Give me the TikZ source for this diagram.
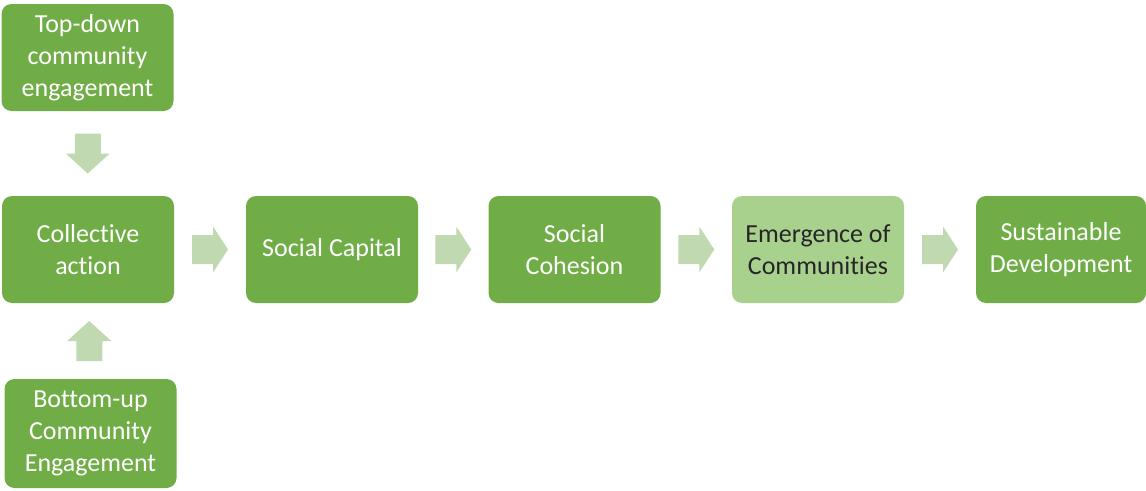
\documentclass[tikz,border=0pt]{standalone}
\usepackage{fontspec}
\setmainfont{Carlito}[Ligatures=NoCommon]
\usetikzlibrary{calc}
\definecolor{dgreen}{HTML}{70AD47}
\definecolor{lgreen}{HTML}{A9D18E}
\definecolor{arrowg}{HTML}{C0D9B0}
\definecolor{darktext}{HTML}{262626}
\tikzset{
  box/.style={draw=none, fill=dgreen, rounded corners=10pt, minimum width=172pt, minimum height=107pt,
    inner sep=0pt, outer sep=0pt, align=center, text=white, font=\fontsize{26}{32}\selectfont},
  lightbox/.style={box, fill=lgreen, text=darktext},
  blockarrow/.style={fill=arrowg, draw=none}
}
\newcommand{\arrowR}[2]{%
  \fill[blockarrow] ($(#1.east)!0.5!(#2.west)$) ++(-18,-14.5) -- ++(21,0) -- ++(0,-8.5) -- ++(15,23) -- ++(-15,23) -- ++(0,-8.5) -- ++(-21,0) -- cycle;}
\newcommand{\arrowD}[2]{%
  \fill[blockarrow] ($(#1.south)!0.5!(#2.north)$) ++(-13,-20) -- ++(26,0) -- ++(0,20) -- ++(9,0) -- ++(-22,20) -- ++(-22,-20) -- ++(9,0) -- cycle;}
\newcommand{\arrowU}[2]{%
  \fill[blockarrow] ($(#1.north)!0.5!(#2.south)$) ++(-13,20) -- ++(26,0) -- ++(0,-20) -- ++(9,0) -- ++(-22,-20) -- ++(-22,20) -- ++(9,0) -- cycle;}
\begin{document}
\begin{tikzpicture}[x=1pt,y=-1pt]
\useasboundingbox (0,0) rectangle (1146,490);
\node[box] (top) at (87.5,57.5) {Top-down\\community\\engagement};
\node[box] (coll) at (88,249.5) {Collective\\action};
\node[box, minimum height=109pt] (bot) at (90.5,433.5) {Bottom-up\\Community\\Engagement};
\node[box] (cap) at (332,249.5) {Social Capital};
\node[box] (coh) at (574.5,249.5) {Social\\Cohesion};
\node[lightbox] (emer) at (818,249.5) {Emergence of\\Communities};
\node[box, minimum width=170pt] (sust) at (1061,249.5) {Sustainable\\Development};
\arrowD{top}{coll}
\arrowU{bot}{coll}
\arrowR{coll}{cap}
\arrowR{cap}{coh}
\arrowR{coh}{emer}
\arrowR{emer}{sust}
\end{tikzpicture}
\end{document}
